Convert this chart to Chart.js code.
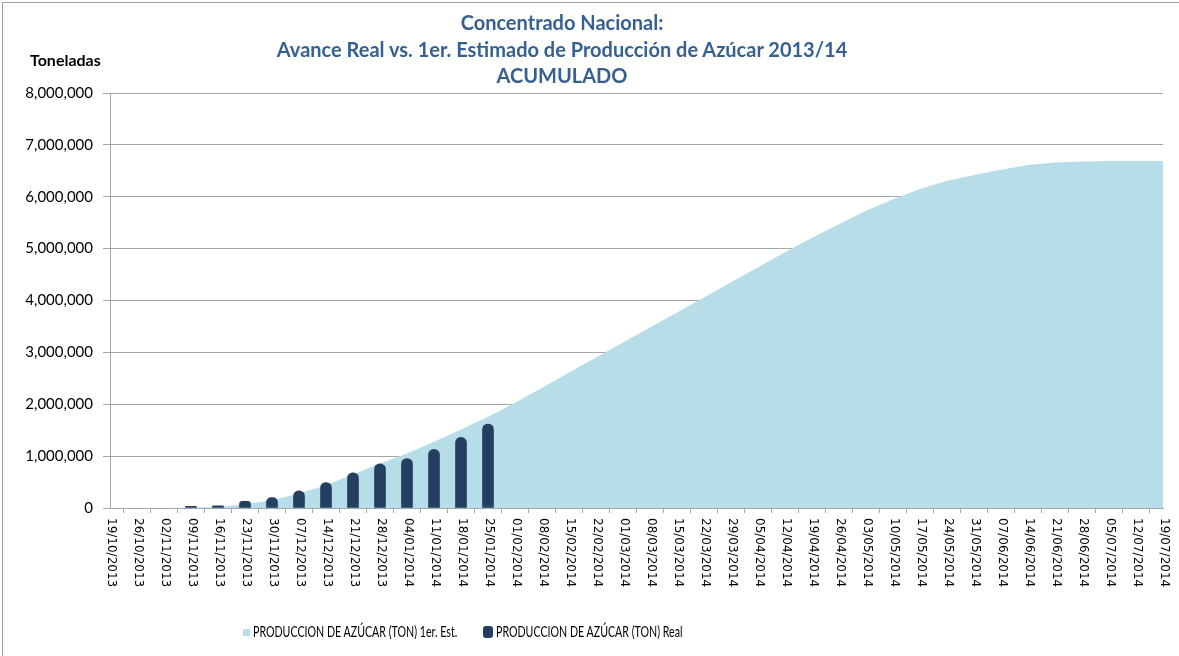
<!DOCTYPE html>
<html>
<head>
<meta charset="utf-8">
<script src="https://cdn.jsdelivr.net/npm/chart.js@4/dist/chart.umd.min.js"></script>
<style>
  html, body { margin: 0; padding: 0; background: #fff; }
  #wrap { position: relative; width: 1179px; height: 656px; overflow: hidden; }
  #frame { position: absolute; left: 2px; top: 2px; width: 1200px; height: 700px; border: 1px solid #a0a0a0; box-sizing: border-box; pointer-events: none; }
  #chart { position: absolute; left: 0; top: 0; }
  #title { position: absolute; left: 212px; width: 700px; top: 9px; text-align: center; font: bold 20px Lato, sans-serif; color: #376092; line-height: 26.5px; }
  #yTitle { position: absolute; left: 30px; top: 50px; font: bold 16px Lato, sans-serif; color: #000; }
  #legend { position: absolute; top: 622px; left: 0; font: 15px Lato, sans-serif; color: #000; white-space: nowrap; }
  #legend .item { position: absolute; top: 0; }
  #legend .item:nth-child(1) { left: 243px; }
  #legend .item:nth-child(2) { left: 483px; }
  #legend i { display: inline-block; vertical-align: middle; margin-right: 3px; position: relative; top: -1px; }
  #legend .txt { display: inline-block; transform: scaleX(0.71); transform-origin: left center; }
</style>
</head>
<body>
<div id="wrap">
  <canvas id="chart" width="1179" height="656"></canvas>
  <div id="frame"></div>
  <div id="title"></div>
  <div id="yTitle"></div>
  <div id="legend"></div>
</div>
<script>
const titleLines = ['Concentrado Nacional:', 'Avance Real vs. 1er. Estimado de Producción de Azúcar 2013/14', 'ACUMULADO'];
const yAxisTitle = 'Toneladas';

const weeks = [
    '19/10/2013', '26/10/2013', '02/11/2013', '09/11/2013', '16/11/2013', '23/11/2013', '30/11/2013',
    '07/12/2013', '14/12/2013', '21/12/2013', '28/12/2013', '04/01/2014', '11/01/2014', '18/01/2014',
    '25/01/2014', '01/02/2014', '08/02/2014', '15/02/2014', '22/02/2014', '01/03/2014', '08/03/2014',
    '15/03/2014', '22/03/2014', '29/03/2014', '05/04/2014', '12/04/2014', '19/04/2014', '26/04/2014',
    '03/05/2014', '10/05/2014', '17/05/2014', '24/05/2014', '31/05/2014', '07/06/2014', '14/06/2014',
    '21/06/2014', '28/06/2014', '05/07/2014', '12/07/2014', '19/07/2014'
];

// 1er. estimado, acumulado (ton)
const estimated = [
    0, 0, 0, 5000, 20000, 70000, 150000,
    280000, 440000, 650000, 860000, 1050000, 1275000, 1515000,
    1760000, 2030000, 2320000, 2610000, 2900000, 3190000, 3480000,
    3770000, 4060000, 4350000, 4640000, 4930000, 5210000, 5470000,
    5730000, 5950000, 6150000, 6310000, 6420000, 6520000, 6610000,
    6660000, 6680000, 6690000, 6690000, 6690000
];

// avance real, acumulado (ton)
const real = [
    null, null, null, 30000, 40000, 130000, 200000,
    330000, 490000, 680000, 850000, 955000, 1130000, 1360000,
    1620000
];

const seriesNames = ['PRODUCCION DE AZÚCAR (TON) 1er. Est.', 'PRODUCCION DE AZÚCAR (TON) Real'];
const yTicks = { min: 0, max: 8000000, step: 1000000 };

const areaColor = '#B7DDE8';
const barColor = '#243F60';
const gridColor = '#a6a6a6';

document.getElementById('title').innerHTML = titleLines.map(t => '<div>' + t + '</div>').join('');
document.getElementById('yTitle').textContent = yAxisTitle;

// rotated date labels, read top-down like the original
const dateLabels = {
    id: 'dateLabels',
    afterDraw(chart) {
        const ctx = chart.ctx;
        const xs = chart.scales.x;
        ctx.save();
        ctx.font = '12px "DejaVu Sans", sans-serif';
        ctx.fillStyle = '#000';
        ctx.textAlign = 'left';
        ctx.textBaseline = 'middle';
        xs.ticks.forEach((t, i) => {
            const x = xs.getPixelForTick(i);
            ctx.save();
            ctx.translate(x + 1, xs.top + 10);
            ctx.rotate(Math.PI / 2);
            ctx.fillText(chart.data.labels[t.value], 0, 0);
            ctx.restore();
        });
        ctx.restore();
    }
};

const chart = new Chart(document.getElementById('chart'), {
    data: {
        labels: weeks,
        datasets: [{
            type: 'line',
            label: seriesNames[0],
            data: estimated,
            backgroundColor: areaColor,
            borderColor: areaColor,
            borderWidth: 0,
            pointRadius: 0,
            fill: 'origin',
            tension: 0,
            order: 2
        }, {
            type: 'bar',
            label: seriesNames[1],
            data: real,
            backgroundColor: barColor,
            barThickness: 11,
            borderRadius: { topLeft: 5.5, topRight: 5.5, bottomLeft: 0, bottomRight: 0 },
            borderSkipped: false,
            order: 1
        }]
    },
    plugins: [dateLabels],
    options: {
        responsive: false,
        animation: false,
        layout: { padding: { top: 93, right: 16, bottom: 0, left: 0 } },
        plugins: {
            legend: { display: false },
            title: { display: false },
            tooltip: { enabled: false }
        },
        scales: {
            x: {
                offset: false,
                grid: { display: true, drawOnChartArea: false, drawTicks: true, tickLength: 5, color: gridColor },
                border: { color: gridColor },
                ticks: { display: false, autoSkip: false },
                afterFit(scale) { scale.height = 148; }
            },
            y: {
                min: yTicks.min,
                max: yTicks.max,
                grid: { color: gridColor, tickLength: 7 },
                border: { color: gridColor },
                ticks: {
                    stepSize: yTicks.step,
                    padding: 10,
                    color: '#000',
                    font: { family: 'Lato', size: 15 },
                    callback: v => v.toLocaleString('en-US')
                },
                afterFit(scale) { scale.width = 110; }
            }
        }
    }
});

// legend
const legendEl = document.getElementById('legend');
chart.data.datasets.forEach(ds => {
    const item = document.createElement('span');
    item.className = 'item';
    const box = document.createElement('i');
    if (ds.type === 'bar') {
        box.style.cssText = 'width:10px;height:12px;border-radius:3px;background:' + ds.backgroundColor;
    } else {
        box.style.cssText = 'width:7px;height:7px;background:' + ds.backgroundColor;
    }
    const txt = document.createElement('span');
    txt.className = 'txt';
    txt.textContent = ds.label;
    item.appendChild(box);
    item.appendChild(txt);
    legendEl.appendChild(item);
});
</script>
</body>
</html>
